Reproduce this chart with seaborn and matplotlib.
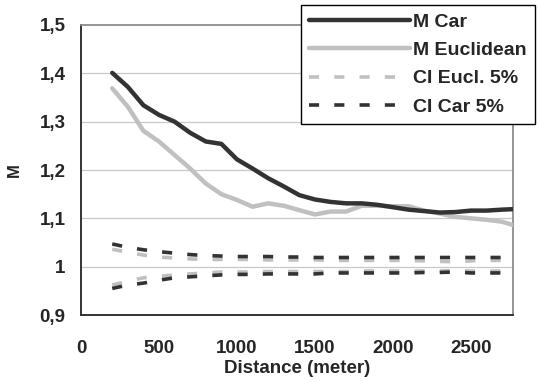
import matplotlib
matplotlib.use("Agg")
import matplotlib.pyplot as plt
import seaborn as sns
import numpy as np
import pandas as pd

distance = [200, 300, 400, 500, 600, 700, 800, 900, 1000, 1100, 1200, 1300, 1400,
            1500, 1600, 1700, 1800, 1900, 2000, 2100, 2200, 2300, 2400, 2500, 2600,
            2700, 2770]
m_car = [1.401, 1.372, 1.334, 1.314, 1.300, 1.277, 1.259, 1.254, 1.222, 1.203, 1.183,
         1.166, 1.148, 1.139, 1.134, 1.131, 1.131, 1.128, 1.123, 1.118, 1.115, 1.112,
         1.113, 1.116, 1.116, 1.118, 1.119]
m_eucl = [1.369, 1.331, 1.281, 1.259, 1.231, 1.203, 1.172, 1.150, 1.138, 1.124, 1.131,
          1.126, 1.117, 1.108, 1.114, 1.114, 1.126, 1.126, 1.125, 1.125, 1.116, 1.110,
          1.103, 1.100, 1.097, 1.093, 1.086]
ci_car_up = [1.047, 1.040, 1.035, 1.031, 1.028, 1.025, 1.023, 1.022, 1.021, 1.021, 1.021,
             1.020, 1.020, 1.019, 1.019, 1.019, 1.019, 1.019, 1.019, 1.019, 1.019, 1.019,
             1.019, 1.019, 1.019, 1.019, 1.019]
ci_car_lo = [0.955, 0.962, 0.966, 0.972, 0.977, 0.979, 0.981, 0.983, 0.984, 0.984, 0.985,
             0.985, 0.985, 0.985, 0.987, 0.987, 0.987, 0.987, 0.987, 0.987, 0.988, 0.988,
             0.989, 0.987, 0.987, 0.987, 0.987]
ci_eucl_up = [1.036, 1.030, 1.024, 1.020, 1.018, 1.016, 1.015, 1.015, 1.015, 1.015, 1.014,
              1.014, 1.014, 1.014, 1.013, 1.013, 1.013, 1.013, 1.013, 1.013, 1.012, 1.011,
              1.010, 1.012, 1.013, 1.013, 1.013]
ci_eucl_lo = [0.962, 0.970, 0.977, 0.980, 0.983, 0.985, 0.987, 0.989, 0.989, 0.989, 0.990,
              0.990, 0.990, 0.990, 0.990, 0.990, 0.991, 0.991, 0.991, 0.991, 0.991, 0.991,
              0.992, 0.991, 0.991, 0.991, 0.991]

y_ticks = [0.9, 1.0, 1.1, 1.2, 1.3, 1.4, 1.5]
y_tick_labels = ["0,9", "1", "1,1", "1,2", "1,3", "1,4", "1,5"]
x_ticks = [0, 500, 1000, 1500, 2000, 2500]
x_tick_labels = ["0", "500", "1000", "1500", "2000", "2500"]

sns.set_style("white")
plt.rcParams['font.family'] = ['Liberation Sans', 'DejaVu Sans']

DARK = "#333333"
LIGHT = "#c0c0c0"
FS = 13.5

fig = plt.figure(figsize=(5.39, 3.81), dpi=100)
ax = fig.add_axes([0.1503, 0.1732, 0.9518 - 0.1503, 0.9344 - 0.1732])

for y in y_ticks[:-1]:
    ax.axhline(y, color="#c8c8c8", lw=0.9, zorder=0)

dash = (2.8, 4.2)
sns.lineplot(x=distance, y=m_car, ax=ax, color=DARK, lw=3.2, label="M Car",
             solid_capstyle="round", zorder=4)
sns.lineplot(x=distance, y=m_eucl, ax=ax, color=LIGHT, lw=3.2, label="M Euclidean",
             solid_capstyle="round", zorder=3)
sns.lineplot(x=distance, y=ci_eucl_up, ax=ax, color=LIGHT, lw=2.6,
             label="CI Eucl. 5%", zorder=2).lines[-1].set_dashes(dash)
sns.lineplot(x=distance, y=ci_eucl_lo, ax=ax, color=LIGHT, lw=2.6,
             zorder=2).lines[-1].set_dashes(dash)
sns.lineplot(x=distance, y=ci_car_up, ax=ax, color=DARK, lw=2.6,
             label="CI Car 5%", zorder=2).lines[-1].set_dashes(dash)
sns.lineplot(x=distance, y=ci_car_lo, ax=ax, color=DARK, lw=2.6,
             zorder=2).lines[-1].set_dashes(dash)

handles, labels = ax.get_legend_handles_labels()
if ax.get_legend() is not None:
    ax.get_legend().remove()

ax.set_xlim(0, 2770)
ax.set_ylim(0.9, 1.5)
ax.set_yticks(y_ticks)
ax.set_yticklabels(y_tick_labels, fontweight="bold", fontsize=FS)
ax.set_xticks(x_ticks)
ax.set_xticklabels(x_tick_labels, fontweight="bold", fontsize=FS)
ax.tick_params(axis="both", direction="out", length=5, width=1, color="#333333")
ax.tick_params(axis="x", pad=13)
ax.tick_params(axis="y", pad=6)
ax.set_xlabel("Distance (meter)", fontweight="bold", fontsize=FS, labelpad=2)
ax.set_ylabel("M", fontweight="bold", fontsize=12, labelpad=13)

for s in ["left", "bottom"]:
    ax.spines[s].set_color("#333333")
    ax.spines[s].set_linewidth(1.4)
for s in ["right", "top"]:
    ax.spines[s].set_color("#8c8c8c")
    ax.spines[s].set_linewidth(1.3)

leg = fig.legend(handles, labels, loc="upper right", bbox_to_anchor=(0.9926, 0.987),
                 frameon=True, fancybox=False, edgecolor="black", framealpha=1,
                 prop={"weight": "bold", "size": 14}, handlelength=5.2,
                 labelspacing=0.55, borderpad=0.42, handletextpad=0.15,
                 borderaxespad=0)
leg.get_frame().set_linewidth(1.0)
leg.set_zorder(10)

fig.savefig("out.png", dpi=100)
